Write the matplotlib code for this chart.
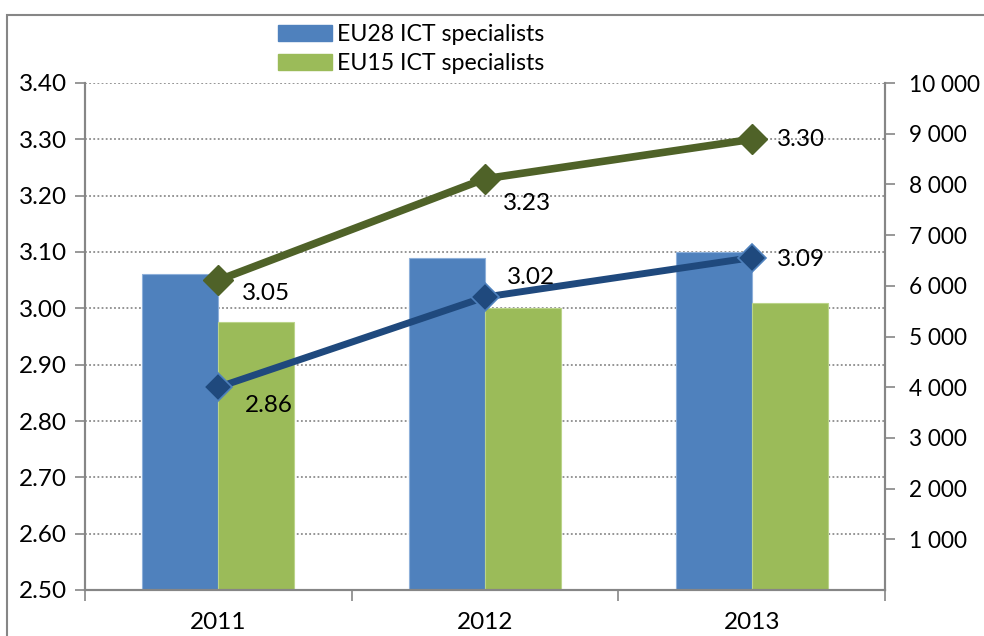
import numpy as np
import matplotlib
matplotlib.use("Agg")
import matplotlib.pyplot as plt
import matplotlib.patches as mpatches
from matplotlib.transforms import blended_transform_factory

# data
years = ["2011", "2012", "2013"]
eu28_specialists = [6225, 6555, 6666]     # right axis
eu15_specialists = [5290, 5567, 5666]     # right axis
eu28_share = [2.86, 3.02, 3.09]           # left axis
eu15_share = [3.05, 3.23, 3.30]           # left axis
left_ticks = [2.50, 2.60, 2.70, 2.80, 2.90, 3.00, 3.10, 3.20, 3.30, 3.40]
right_ticks = [1000, 2000, 3000, 4000, 5000, 6000, 7000, 8000, 9000, 10000]

# label offsets (pixels) for the line value labels
eu28_label_off = [(50, -18), (46, 20), (49, -2)]
eu15_label_off = [(48, -13), (42, -25), (49, 0)]

plt.rcParams['font.family'] = ['Lato', 'DejaVu Sans']
FS = 17.5
GRAY = "#868686"

fig = plt.figure(figsize=(9.84, 6.36), dpi=100)
ax = fig.add_axes([85/984, 1 - 590/636, 800/984, 507/636])
axl = ax.twinx()

x = np.arange(len(years))
w = 0.285

# bars on the right-hand axis (bottom layer)
ax.bar(x - w/2, eu28_specialists, w, color="#4F81BD", edgecolor="#8EB0DA", linewidth=0.8, zorder=2,
       label="EU28 ICT specialists")
ax.bar(x + w/2, eu15_specialists, w, color="#9BBB59", edgecolor="#BBD48A", linewidth=0.8, zorder=2,
       label="EU15 ICT specialists")
ax.set_ylim(0, 10000)
ax.set_xlim(-0.5, len(years) - 0.5)

# dotted grid at the left-axis ticks, drawn behind the bars
tr = blended_transform_factory(ax.transAxes, axl.transData)
for v in left_ticks[1:]:
    ax.plot([0, 1], [v, v], transform=tr, color="#8C8C8C", linestyle=(0, (1, 1.3)), linewidth=1.3, zorder=1)

# lines on the left-hand axis
axl.plot(x, eu15_share, color="#4F6228", linewidth=5.5, marker="D", markersize=15,
         markeredgecolor="#4F6228", zorder=3)
axl.plot(x, eu28_share, color="#1F497D", linewidth=5, marker="D", markersize=14,
         markeredgecolor="#4F81BD", markeredgewidth=1.2, zorder=3)
axl.set_ylim(2.50, 3.40)
axl.patch.set_visible(False)

for xi, v, off in zip(x, eu15_share, eu15_label_off):
    axl.annotate(f"{v:.2f}", (xi, v), xytext=(off[0]*0.72, off[1]*0.72), textcoords="offset points",
                 ha="center", va="center", fontsize=FS)
for xi, v, off in zip(x, eu28_share, eu28_label_off):
    axl.annotate(f"{v:.2f}", (xi, v), xytext=(off[0]*0.72, off[1]*0.72), textcoords="offset points",
                 ha="center", va="center", fontsize=FS)

# left axis (shares)
axl.yaxis.tick_left()
axl.yaxis.set_label_position("left")
axl.set_yticks(left_ticks)
axl.set_yticklabels([f"{t:.2f}" for t in left_ticks])
axl.tick_params(axis="y", direction="out", length=7, width=1.2, color=GRAY, labelsize=FS, pad=6)

# right axis (specialists)
ax.yaxis.tick_right()
ax.set_yticks(right_ticks)
ax.set_yticklabels([f"{t:,}".replace(",", " ") for t in right_ticks])
ax.tick_params(axis="y", direction="out", length=7, width=1.2, color=GRAY, labelsize=16.3, pad=10)

# category axis: boundary ticks, labels centered
ax.set_xticks(x)
ax.set_xticklabels(years)
ax.set_xticks(np.arange(len(years) + 1) - 0.5, minor=True)
ax.tick_params(axis="x", which="major", length=0, labelsize=FS, pad=16)
ax.tick_params(axis="x", which="minor", direction="out", length=8, width=1.2, color=GRAY)

for a in (ax, axl):
    a.spines["top"].set_visible(False)
    for s in ("left", "right", "bottom"):
        a.spines[s].set_color(GRAY)
        a.spines[s].set_linewidth(1.5)

# legend (bars only), above the plot area
handles = [mpatches.Patch(color="#4F81BD"), mpatches.Patch(color="#9BBB59")]
fig.legend(handles, ["EU28 ICT specialists", "EU15 ICT specialists"], loc="upper left",
           bbox_to_anchor=(262/984, 1 - 8/636), frameon=False, fontsize=16.7,
           handlelength=2.3, handleheight=0.65, handletextpad=0.25, labelspacing=0.35,
           borderpad=0.2)

# outer chart frame (only top and left visible in the crop)
fig.patches.append(mpatches.Rectangle((7/984, -0.1), 2, 1 - 15/636 + 0.1, transform=fig.transFigure,
                                      fill=False, edgecolor=GRAY, linewidth=1.5))

fig.savefig("out.png", dpi=100)
